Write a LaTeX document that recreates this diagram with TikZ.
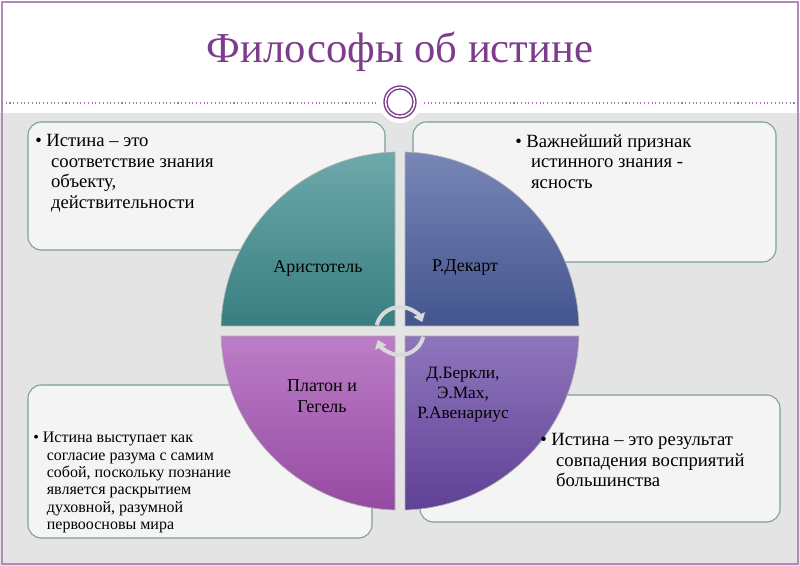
\documentclass[tikz,border=0pt]{standalone}
\usepackage{fontspec}
\setmainfont{Liberation Serif}
\usetikzlibrary{arrows.meta}
\definecolor{ttl}{HTML}{7E3C8C}
\definecolor{bg}{HTML}{E4E4E4}
\definecolor{bx}{HTML}{7E9C9C}
\definecolor{qA}{HTML}{3E8C8E}
\definecolor{qB}{HTML}{4B5E9E}
\definecolor{qC}{HTML}{A652B4}
\definecolor{qD}{HTML}{6A48A6}
\newcommand{\ind}{\hspace*{0.85em}}
\tikzset{
 tbox/.style={draw=bx,line width=0.8pt,rounded corners=10pt,fill=white!60!bg},
 txt/.style={align=left,font=\fontsize{14}{15.5}\selectfont,anchor=north west,inner sep=0},
 qlab/.style={align=center,font=\fontsize{13.5}{15.5}\selectfont},
 quad/.style={draw=white!70!black,line width=0.5pt},
 carr/.style={draw=white!85!black,line width=3pt,-{Triangle[length=6pt,width=9pt]}}
}
\begin{document}
\begin{tikzpicture}[x=0.75pt,y=-0.75pt]
\useasboundingbox (0,0) rectangle (800,566);
\fill[white] (0,0) rectangle (800,566);
\fill[bg] (0,113) rectangle (800,566);
\draw[ttl!60,line width=0.8pt] (2,2) rectangle (798,564);
\draw[ttl!70,dotted,line width=0.8pt] (2,103) -- (798,103);
\fill[white] (400,102) circle (21);
\draw[ttl,line width=1pt] (400,102) circle (16);
\draw[ttl,line width=1pt] (400,102) circle (13);
\node[font=\fontsize{32}{36}\selectfont,text=ttl] (title) at (400,52) {Философы об истине};
% boxes
\draw[tbox] (28,122) rectangle (385,250);
\draw[tbox] (413,122) rectangle (776,262);
\draw[tbox] (28,385) rectangle (372,538);
\draw[tbox] (420,395) rectangle (780,522);
% quadrants
\begin{scope}[shift={(400,331)}]
\draw[quad,top color=qA!75!white,bottom color=qA!90!black] (-5,-5) -- (-5,-179) arc[start angle=-91.6,end angle=-178.4,radius=179] -- cycle;
\draw[quad,top color=qB!75!white,bottom color=qB!90!black] (5,-5) -- (5,-179) arc[start angle=-88.4,end angle=-1.6,radius=179] -- cycle;
\draw[quad,top color=qC!75!white,bottom color=qC!90!black] (-5,5) -- (-5,179) arc[start angle=91.6,end angle=178.4,radius=179] -- cycle;
\draw[quad,top color=qD!75!white,bottom color=qD!90!black] (5,5) -- (5,179) arc[start angle=88.4,end angle=1.6,radius=179] -- cycle;
\end{scope}
\node[txt] (t1) at (35,134) {• Истина – это\\\ind соответствие знания\\\ind объекту,\\\ind действительности};
\node[txt] (t2) at (515,134) {• Важнейший признак\\\ind истинного знания -\\\ind ясность};
\node[txt,font=\fontsize{12}{13}\selectfont] (t3) at (33,432) {• Истина выступает как\\\ind согласие разума с самим\\\ind собой, поскольку познание\\\ind является раскрытием\\\ind духовной, разумной\\\ind первоосновы мира};
\node[txt] (t4) at (540,433) {• Истина – это результат\\\ind совпадения восприятий\\\ind большинства};
\coordinate (c) at (400,331);
\node[qlab] (a) at (318,268) {Аристотель};
\node[qlab] (b) at (465,268) {Р.Декарт};
\node[qlab] (p) at (322,396) {Платон и\\Гегель};
\node[qlab,font=\fontsize{13}{15}\selectfont] (d) at (463,395) {Д.Беркли,\\Э.Мах,\\Р.Авенариус};
\draw[carr] ([shift={(194:24)}]c) arc[start angle=194,end angle=338,radius=24];
\draw[carr] ([shift={(14:24)}]c) arc[start angle=14,end angle=158,radius=24];
\end{tikzpicture}
\end{document}
